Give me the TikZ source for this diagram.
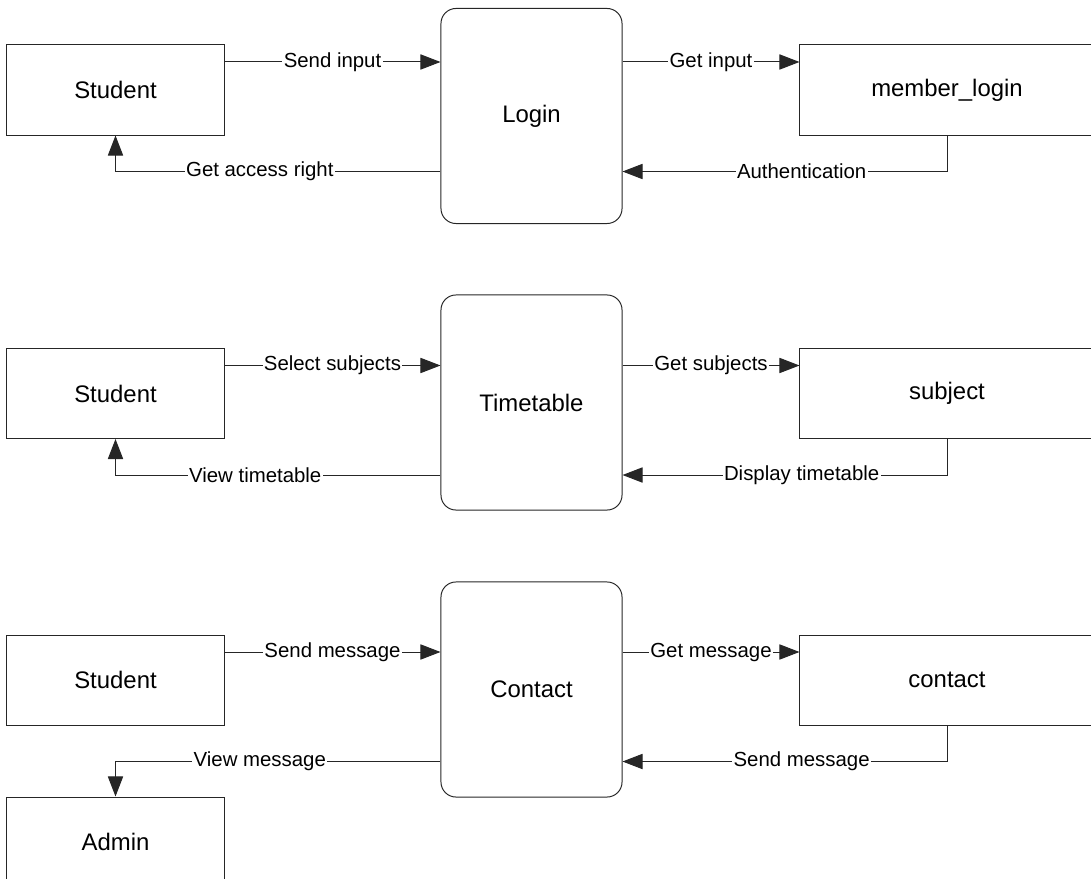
\documentclass[tikz,border=0pt]{standalone}
\usepackage{fontspec}
\setmainfont{Liberation Sans}
\usetikzlibrary{arrows.meta}
\usetikzlibrary{positioning}

\tikzset{
    entity/.style={draw=black!85, line width=0.7pt, rectangle, minimum width=5.425cm, minimum height=2.25cm, font=\fontsize{17pt}{20pt}\selectfont},
    process/.style={draw=black!85, line width=0.7pt, rounded corners=0.375cm, minimum width=4.525cm, minimum height=5.375cm, font=\fontsize{17pt}{20pt}\selectfont},
    datastore/.style={draw=black!85, line width=0.7pt, rectangle, minimum width=7.35cm, minimum height=2.25cm, font=\fontsize{17pt}{20pt}\selectfont},
    flow/.style={draw=black!85, line width=0.7pt, -{Triangle[length=0.5cm, width=0.38cm]}},
    flowlabel/.style={fill=white, inner sep=1pt, font=\fontsize{14.5pt}{17pt}\selectfont}
}

\begin{document}
\begin{tikzpicture}[x=0.025cm, y=-0.025cm]

    \useasboundingbox (0, 0) rectangle (1091, 879);

    \node[entity] (stuA) at (115.5, 90) {Student};
    \node[process] (login) at (531.5, 116) {Login};
    \node[datastore] (memberLogin) at (947, 90) {member\_login};
\coordinate (inA) at ([yshift=0.7cm]stuA.east);
\coordinate (outA) at ([yshift=-0.9cm]stuA.south);
\draw[flow] (inA) -- (inA -| login.west) node [flowlabel, midway] (E0) {Send input};
\draw[flow] (inA -| login.east) -- (inA -| memberLogin.west) node [flowlabel, midway] (E1) {Get input};
\draw[flow] (memberLogin.south) |- (outA -| login.east) node [flowlabel, pos=0.724] (E2) {Authentication};
\draw[flow] (outA -| login.west) -| (stuA.south) node [flowlabel, pos=0.278] (E3) {Get access right};


    \node[entity] (stuB) at (115.5, 393.5) {Student};
    \node[process] (timetable) at (531.5, 402.5) {Timetable};
    \node[datastore] (subject) at (947, 393.5) {subject};
\coordinate (inB) at ([yshift=0.7cm]stuB.east);
\coordinate (outB) at ([yshift=-0.9cm]stuB.south);
\draw[flow] (inB) -- (inB -| timetable.west) node [flowlabel, midway] (E4) {Select subjects};
\draw[flow] (inB -| timetable.east) -- (inB -| subject.west) node [flowlabel, midway] (E5) {Get subjects};
\draw[flow] (subject.south) |- (outB -| timetable.east) node [flowlabel, pos=0.724] (E6) {Display timetable};
\draw[flow] (outB -| timetable.west) -| (stuB.south) node [flowlabel, pos=0.285] (E7) {View timetable};


    \node[entity] (stuC) at (115.5, 680) {Student};
    \node[process] (contact) at (531.5, 689.5) {Contact};
    \node[datastore] (contactDB) at (947, 680) {contact};
    \node[entity] (admin) at (115.5, 842) {Admin};
\coordinate (inC) at ([yshift=0.7cm]stuC.east);
\coordinate (outC) at ([yshift=-0.9cm]stuC.south);
\draw[flow] (inC) -- (inC -| contact.west) node [flowlabel, midway] (E8) {Send message};
\draw[flow] (inC -| contact.east) -- (inC -| contactDB.west) node [flowlabel, midway] (E9) {Get message};
\draw[flow] (contactDB.south) |- (outC -| contact.east) node [flowlabel, pos=0.724] (E10) {Send message};
\draw[flow] (outC -| contact.west) -| (admin.north) node [flowlabel, pos=0.278] (E11) {View message};

\end{tikzpicture}
\end{document}
